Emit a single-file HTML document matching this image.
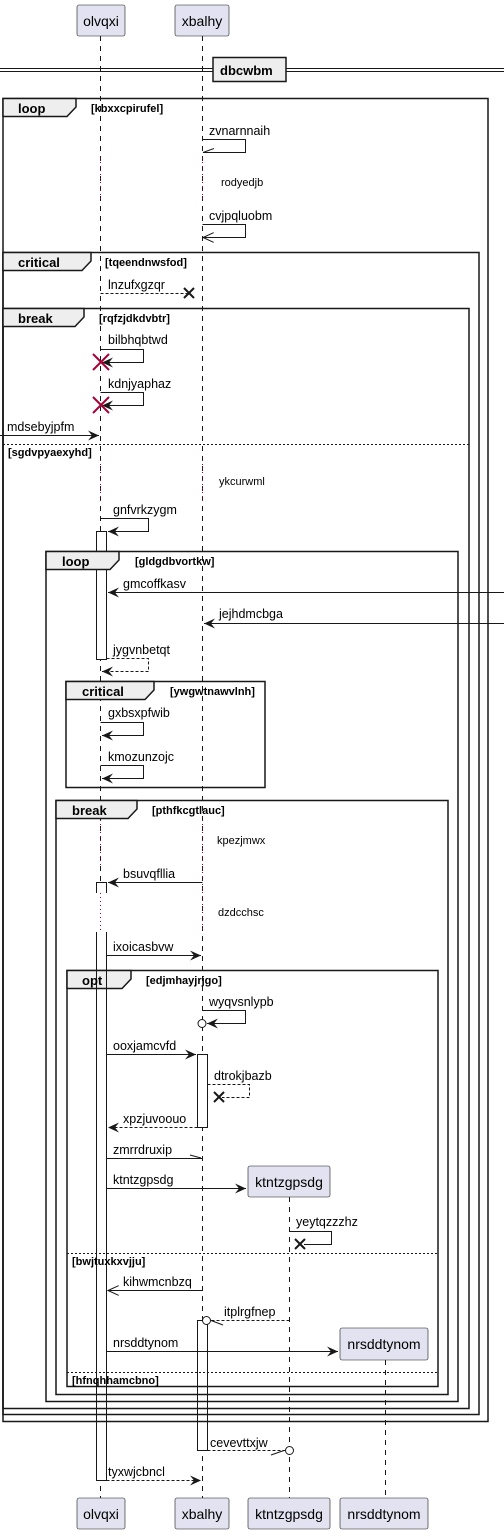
<!DOCTYPE html>
<html><head><meta charset="utf-8"><style>
body{margin:0;background:#fff}
svg text{font-family:"Liberation Sans",sans-serif}
.m{font-size:12.5px;fill:#000}
.s{font-size:11px;fill:#000}
.g{font-size:11px;font-weight:bold;fill:#000}
.t{font-size:13px;font-weight:bold;fill:#000}
.p{font-size:14px;fill:#000}
</style></head><body>
<svg width="504" height="1535" viewBox="0 0 504 1535" xmlns="http://www.w3.org/2000/svg">
<defs>
<marker id="af" markerWidth="12" markerHeight="10" refX="11" refY="5" orient="auto" markerUnits="userSpaceOnUse"><path d="M0,0 L11,5 L0,10 L4,5 Z" fill="#181818"/></marker>
<marker id="ao" markerWidth="12" markerHeight="10" refX="11" refY="5" orient="auto" markerUnits="userSpaceOnUse"><path d="M0,0 L11,5 L0,10" fill="none" stroke="#181818"/></marker>
<marker id="ah" markerWidth="12" markerHeight="10" refX="11" refY="5" orient="auto" markerUnits="userSpaceOnUse"><path d="M0,9 L11,5" fill="none" stroke="#181818"/></marker>
</defs>
<g stroke="#181818" stroke-width="1" fill="none">
<line x1="100.5" y1="36" x2="100.5" y2="1498" stroke-dasharray="5,5"/>
<line x1="202.5" y1="36" x2="202.5" y2="1498" stroke-dasharray="5,5"/>
<line x1="289.5" y1="1197" x2="289.5" y2="1498" stroke-dasharray="5,5"/>
<line x1="385.5" y1="1360" x2="385.5" y2="1498" stroke-dasharray="5,5"/>
</g>
<g stroke="#A80036" stroke-width="1" stroke-dasharray="1,3">
<line x1="100.5" y1="158" x2="100.5" y2="202"/><line x1="202.5" y1="158" x2="202.5" y2="202"/>
<line x1="100.5" y1="460" x2="100.5" y2="502"/><line x1="202.5" y1="460" x2="202.5" y2="502"/>
<line x1="100.5" y1="820" x2="100.5" y2="866"/><line x1="202.5" y1="820" x2="202.5" y2="880"/>
<line x1="100.5" y1="892" x2="100.5" y2="932"/><line x1="202.5" y1="884" x2="202.5" y2="932"/>
</g>
<!-- activations (fill) -->
<g fill="#fff" stroke="#181818">
<rect x="96.5" y="531.5" width="10" height="128"/>
<rect x="96.5" y="882.5" width="10" height="10"/>
<rect x="96.5" y="932.5" width="10" height="548"/>
<rect x="197.5" y="1054.5" width="10" height="73"/>
<rect x="197.5" y="1320.5" width="10" height="130"/>
</g>
<rect x="97" y="891" width="9" height="42" fill="#fff"/>
<g stroke="#A80036" stroke-width="1" stroke-dasharray="1,3"><line x1="100.5" y1="893" x2="100.5" y2="931"/></g>
<!-- participants -->
<g fill="#E2E2F0" stroke="#181818" stroke-width="0.6">
<rect x="77" y="5" width="48" height="31" rx="2"/><rect x="175" y="5" width="54" height="31" rx="2"/>
<rect x="77" y="1498" width="48" height="31" rx="2"/><rect x="175" y="1498" width="54" height="31" rx="2"/>
<rect x="248" y="1498" width="82" height="31" rx="2"/><rect x="340" y="1498" width="88" height="31" rx="2"/>
<rect x="248" y="1166" width="82" height="31" rx="2"/><rect x="340" y="1328" width="88" height="32" rx="2"/>
</g>
<g text-anchor="middle">
<text x="101" y="26" class="p">olvqxi</text><text x="202" y="26" class="p">xbalhy</text>
<text x="101" y="1519" class="p">olvqxi</text><text x="202" y="1519" class="p">xbalhy</text>
<text x="289" y="1519" class="p">ktntzgpsdg</text><text x="384" y="1519" class="p">nrsddtynom</text>
<text x="289" y="1187" class="p">ktntzgpsdg</text><text x="384" y="1349" class="p">nrsddtynom</text>
</g>
<g stroke="#181818"><line x1="0" y1="68.5" x2="504" y2="68.5"/><line x1="0" y1="71.5" x2="504" y2="71.5"/></g>
<rect x="213" y="57.5" width="73" height="24" fill="#EEEEEE" stroke="#181818" stroke-width="1.5"/>
<text x="220" y="75" class="t">dbcwbm</text>
<!-- frames -->
<g fill="none" stroke="#181818" stroke-width="1.5">
<rect x="3" y="98.5" width="485" height="1323"/>
<rect x="3" y="252.5" width="476" height="1162"/>
<rect x="3" y="308.5" width="466" height="1100"/>
<rect x="46" y="551.5" width="412" height="850"/>
<rect x="66" y="681.5" width="199" height="106"/>
<rect x="56" y="800.5" width="392" height="594"/>
<rect x="67" y="970.5" width="371" height="416"/>
</g>
<g fill="#EEEEEE" stroke="#181818" stroke-width="1.5">
<path d="M3,98.5 H76 V107 L67,116.5 H3 Z"/>
<path d="M3,252.5 H91 V261 L82,270.5 H3 Z"/>
<path d="M3,308.5 H84 V317 L75,326.5 H3 Z"/>
<path d="M46,551.5 H119 V560 L110,569.5 H46 Z"/>
<path d="M66,681.5 H154 V690 L145,699.5 H66 Z"/>
<path d="M56,800.5 H137 V809 L128,818.5 H56 Z"/>
<path d="M67,970.5 H131 V979 L122,988.5 H67 Z"/>
</g>
<!-- activation outlines over tabs -->
<g fill="none" stroke="#181818">
<line x1="96.5" y1="970" x2="96.5" y2="989"/><line x1="106.5" y1="970" x2="106.5" y2="989"/>
</g>
<g>
<text x="18" y="113" class="t">loop</text><text x="91" y="112" class="g">[kbxxcpirufel]</text>
<text x="18" y="267" class="t">critical</text><text x="105" y="266" class="g">[tqeendnwsfod]</text>
<text x="18" y="323" class="t">break</text><text x="99" y="322" class="g">[rqfzjdkdvbtr]</text>
<text x="62" y="566" class="t">loop</text><text x="135" y="565" class="g">[gldgdbvortkw]</text>
<text x="82" y="696" class="t">critical</text><text x="170" y="695" class="g">[ywgwtnawvlnh]</text>
<text x="72" y="815" class="t">break</text><text x="152" y="814" class="g">[pthfkcgtlauc]</text>
<text x="82" y="985" class="t">opt</text><text x="146" y="984" class="g">[edjmhayjrjgo]</text>
</g>
<g stroke="#181818" stroke-dasharray="2,2"><line x1="3" y1="444.5" x2="469" y2="444.5"/><line x1="67" y1="1253.5" x2="438" y2="1253.5"/><line x1="67" y1="1372.5" x2="438" y2="1372.5"/></g>
<text x="8" y="456" class="g">[sgdvpyaexyhd]</text>
<text x="72" y="1265" class="g">[bwjtuxkxvjju]</text>
<text x="72" y="1384" class="g">[hfnqhhamcbno]</text>
<!-- messages -->
<g fill="none" stroke="#181818" stroke-width="1">
<path d="M202.5,139.5 H245.5 V152.5 H203" marker-end="url(#ah)"/>
<path d="M202.5,224.5 H245.5 V237.5 H203" marker-end="url(#ao)"/>
<line x1="100.5" y1="293.5" x2="190" y2="293.5" stroke-dasharray="3,2"/>
<path d="M184,288 L194,298 M194,288 L184,298" stroke-width="2"/>
<path d="M100.5,349.5 H143.5 V362.5 H102" marker-end="url(#af)"/>
<path d="M100.5,392.5 H143.5 V405.5 H102" marker-end="url(#af)"/>
<line x1="0" y1="435.5" x2="99" y2="435.5" marker-end="url(#af)"/>
<path d="M100.5,518.5 H148.5 V531.5 H108" marker-end="url(#af)"/>
<line x1="504" y1="592.5" x2="108" y2="592.5" marker-end="url(#af)"/>
<line x1="504" y1="623.5" x2="204" y2="623.5" marker-end="url(#af)"/>
<path d="M106.5,658.5 H148.5 V671.5 H102" stroke-dasharray="3,2" marker-end="url(#af)"/>
<path d="M100.5,722.5 H143.5 V735.5 H102" marker-end="url(#af)"/>
<path d="M100.5,765.5 H143.5 V778.5 H102" marker-end="url(#af)"/>
<line x1="202.5" y1="882.5" x2="108" y2="882.5" marker-end="url(#af)"/>
<line x1="106.5" y1="955.5" x2="201" y2="955.5" marker-end="url(#af)"/>
<path d="M202.5,1010.5 H245.5 V1023.5 H207" marker-end="url(#af)"/>
<circle cx="202" cy="1023.5" r="4" fill="#fff"/>
<line x1="106.5" y1="1054.5" x2="196" y2="1054.5" marker-end="url(#af)"/>
<path d="M207.5,1084.5 H249.5 V1097.5 H222" stroke-dasharray="3,2"/>
<path d="M214,1092 L224,1102 M224,1092 L214,1102" stroke-width="2"/>
<line x1="197.5" y1="1127.5" x2="108" y2="1127.5" stroke-dasharray="3,2" marker-end="url(#af)"/>
<line x1="106.5" y1="1158.5" x2="202" y2="1158.5"/><line x1="190" y1="1155" x2="201" y2="1158"/>
<line x1="106.5" y1="1188.5" x2="246" y2="1188.5" marker-end="url(#af)"/>
<path d="M289.5,1231.5 H331.5 V1244.5 H304"/>
<path d="M295,1239 L305,1249 M305,1239 L295,1249" stroke-width="2"/>
<line x1="202.5" y1="1290.5" x2="108" y2="1290.5" marker-end="url(#ao)"/>
<line x1="289.5" y1="1320.5" x2="211" y2="1320.5" stroke-dasharray="3,2"/>
<line x1="223" y1="1325" x2="211" y2="1320.5"/>
<circle cx="206.5" cy="1320.5" r="4" fill="#fff"/>
<line x1="106.5" y1="1351.5" x2="338" y2="1351.5" marker-end="url(#af)"/>
<line x1="207.5" y1="1450.5" x2="285" y2="1450.5" stroke-dasharray="3,2"/>
<line x1="271" y1="1455" x2="284" y2="1450.5"/>
<circle cx="289.5" cy="1450.5" r="4" fill="#fff"/>
<line x1="106.5" y1="1480.5" x2="201" y2="1480.5" stroke-dasharray="3,2" marker-end="url(#af)"/>
</g>
<g stroke="#A80036" stroke-width="2">
<path d="M93,354 L109,370 M109,354 L93,370"/>
<path d="M93,397 L109,413 M109,397 L93,413"/>
</g>
<g>
<text x="209" y="135" class="m">zvnarnnaih</text>
<text x="209" y="220" class="m">cvjpqluobm</text>
<text x="108" y="289" class="m">lnzufxgzqr</text>
<text x="108" y="344" class="m">bilbhqbtwd</text>
<text x="108" y="388" class="m">kdnjyaphaz</text>
<text x="7" y="431" class="m">mdsebyjpfm</text>
<text x="113" y="514" class="m">gnfvrkzygm</text>
<text x="123" y="588" class="m">gmcoffkasv</text>
<text x="219" y="618" class="m">jejhdmcbga</text>
<text x="113" y="654" class="m">jygvnbetqt</text>
<text x="108" y="717" class="m">gxbsxpfwib</text>
<text x="108" y="761" class="m">kmozunzojc</text>
<text x="123" y="878" class="m">bsuvqfllia</text>
<text x="113" y="951" class="m">ixoicasbvw</text>
<text x="209" y="1006" class="m">wyqvsnlypb</text>
<text x="113" y="1050" class="m">ooxjamcvfd</text>
<text x="214" y="1080" class="m">dtrokjbazb</text>
<text x="123" y="1123" class="m">xpzjuvoouo</text>
<text x="113" y="1154" class="m">zmrrdruxip</text>
<text x="113" y="1184" class="m">ktntzgpsdg</text>
<text x="296" y="1226" class="m">yeytqzzzhz</text>
<text x="123" y="1286" class="m">kihwmcnbzq</text>
<text x="224" y="1316" class="m">itplrgfnep</text>
<text x="113" y="1347" class="m">nrsddtynom</text>
<text x="210" y="1447" class="m">cevevttxjw</text>
<text x="108" y="1476" class="m">tyxwjcbncl</text>
</g>
<g>
<text x="221" y="186" class="s">rodyedjb</text>
<text x="219" y="485" class="s">ykcurwml</text>
<text x="217" y="844" class="s">kpezjmwx</text>
<text x="218" y="916" class="s">dzdcchsc</text>
</g>
</svg>
</body></html>
